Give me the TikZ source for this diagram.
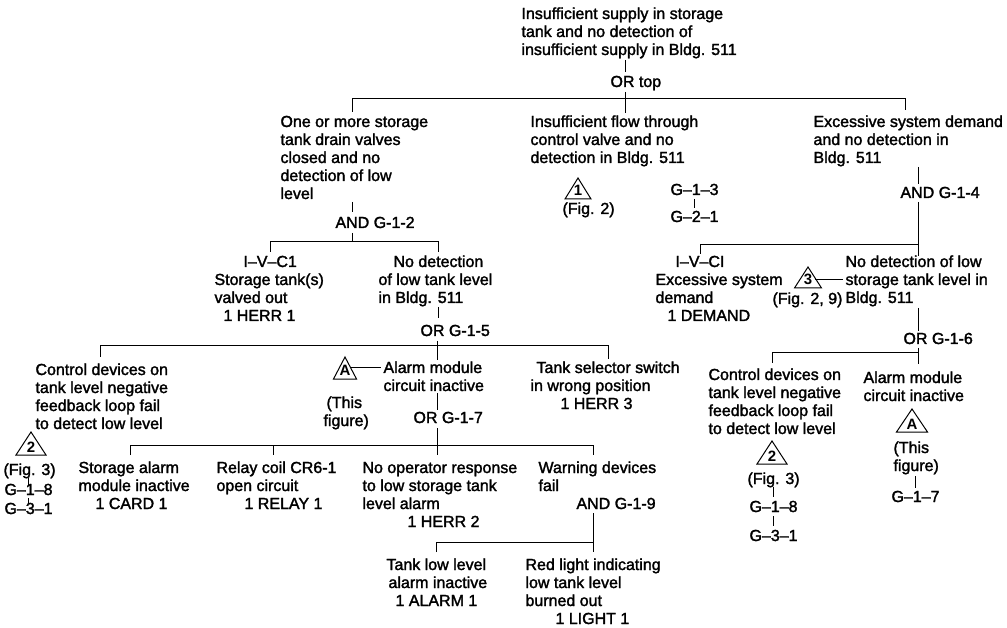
\documentclass[tikz,border=0pt]{standalone}
\usepackage{fontspec}
\setmainfont{Liberation Sans}[BoldFont={Liberation Sans},BoldFeatures={FakeBold=1.8}]
\newfontfamily\trifont{Liberation Sans}
\newcommand\fs{\fontsize{16}{18}\selectfont\bfseries}
\newcommand\tb[1]{\begin{tabular}[t]{@{}l@{}}#1\end{tabular}}
\newcommand\tri[6]{%
  \draw (#2-#4,#3+#5) -- (#2,#3) -- (#2+#4,#3+#5) -- cycle;
  \node[trilab] (#1) at (#2,#3+#5-3) {#6};}
\begin{document}
\begin{tikzpicture}[x=1pt,y=-1pt,line width=1pt,
  t/.style={inner sep=0pt,anchor=base west,font=\fs},
  g/.style={inner sep=0pt,anchor=base west,font=\fs},
  trilab/.style={inner sep=0pt,anchor=base,font=\trifont\fontsize{15}{15}\selectfont\bfseries}]
\fill[white] (0,0) rectangle (1007,628);
\useasboundingbox (0,0) rectangle (1007,628);

% top event
\node[t] (top) at (521,19) {\tb{Insufficient supply in storage\\tank and no detection of\\insufficient supply in Bldg. 511}};
\draw (625,60) -- (625,72);
\node[g] (gtop) at (610,87) {OR top};
\draw (625,92) -- (625,113);
\draw (352,112) -- (352,99) -- (905,99) -- (905,110);

% left branch
\node[t] (l1) at (280,127) {\tb{One or more storage\\tank drain valves\\closed and no\\detection of low\\level}};
\draw (352,202) -- (352,212);
\node[g] (g12) at (335,228) {AND G-1-2};
\draw (352,233) -- (352,242);
\draw (270,252) -- (270,242) -- (438,242) -- (438,252);
\node[t] (ivc1) at (214,267) {\tb{\hspace*{29pt}I–V–C1\\Storage tank(s)\\valved out\\\hspace*{9pt}1 HERR 1}};
\node[t] (nd1) at (378,267) {\tb{\hspace*{15pt}No detection\\of low tank level\\in Bldg. 511}};
\draw (438,307) -- (438,318);
\node[g] (g15) at (420,336) {OR G-1-5};
\draw (437,341) -- (437,360);
\draw (100,357) -- (100,346) -- (608,346) -- (608,359);

% middle branch
\node[t] (m1) at (530,127) {\tb{Insufficient flow through\\control valve and no\\detection in Bldg. 511}};
\tri{t1}{578}{178}{13}{21}{1}
\node[t] (f2) at (562,214) {(Fig. 2)};
\node[t] (g13) at (670,195) {G–1–3};
\draw (694,199) -- (694,208);
\node[t] (g21) at (670,222) {G–2–1};

% right branch
\node[t] (r1) at (813,127) {\tb{Excessive system demand\\and no detection in\\Bldg. 511}};
\draw (918,167) -- (918,184);
\node[g] (g14) at (900,198) {AND G-1-4};
\draw (918,202) -- (918,256);
\draw (700,254) -- (700,245) -- (918,245);
\node[t] (ivcl) at (655,267) {\tb{\hspace*{20pt}I–V–CI\\Excessive system\\demand\\\hspace*{12pt}1 DEMAND}};
\node[t] (nd2) at (845,267) {\tb{No detection of low\\storage tank level in\\Bldg. 511}};
\tri{t3}{808}{267}{13.5}{21}{3}
\draw (815,280) -- (843,280);
\node[t] (f29) at (772,304) {(Fig. 2, 9)};
\draw (918,308) -- (918,331);
\node[g] (g16) at (903,344) {OR G-1-6};
\draw (918,348) -- (918,364);
\draw (772,363) -- (772,353) -- (918,353);

% G-1-5 children
\node[t] (cd1) at (35,375) {\tb{Control devices on\\tank level negative\\feedback loop fail\\to detect low level}};
\tri{t2a}{31}{432}{15}{23}{2}
\node[t] (f3a) at (3,475) {(Fig. 3)};
\draw (28,478) -- (28,485);
\node[t] (g18a) at (4,495) {G–1–8};
\draw (28,498) -- (28,504);
\node[t] (g31a) at (4,514) {G–3–1};

\node[t] (am1) at (383,373) {\tb{Alarm module\\circuit inactive}};
\tri{tAa}{345}{357}{11.5}{22}{A}
\draw (351,368) -- (381,368);
\node[t] (tf1) at (323,408) {\tb{\hspace*{3pt}(This\\figure)}};
\draw (437,393) -- (437,410);
\node[g] (g17) at (413,423) {OR G-1-7};
\draw (437,428) -- (437,455);
\draw (130,455) -- (130,445) -- (593,445) -- (593,455);
\draw (273,445) -- (273,455);

\node[t] (ts) at (530,373) {\tb{\hspace*{6pt}Tank selector switch\\in wrong position\\\hspace*{30pt}1 HERR 3}};

% G-1-7 children
\node[t] (sa) at (78,473) {\tb{Storage alarm\\module inactive\\\hspace*{17pt}1 CARD 1}};
\node[t] (rc) at (216,473) {\tb{Relay coil CR6-1\\open circuit\\\hspace*{28pt}1 RELAY 1}};
\node[t] (no) at (362,473) {\tb{No operator response\\to low storage tank\\level alarm\\\hspace*{45pt}1 HERR 2}};
\node[t] (wd) at (538,473) {\tb{Warning devices\\fail}};
\node[g] (g19) at (576,509) {AND G-1-9};
\draw (593,513) -- (593,542);
\draw (436,552) -- (436,542) -- (593,542) -- (593,552);
\node[t] (tl) at (386,570) {\tb{Tank low level\\\hspace*{2pt}alarm inactive\\\hspace*{9pt}1 ALARM 1}};
\node[t] (rl) at (525,570) {\tb{Red light indicating\\low tank level\\burned out\\\hspace*{30pt}1 LIGHT 1}};

% G-1-6 children
\node[t] (cd2) at (708,380) {\tb{Control devices on\\tank level negative\\feedback loop fail\\to detect low level}};
\tri{t2b}{772}{441}{15}{23}{2}
\node[t] (f3b) at (747,484) {(Fig. 3)};
\draw (773,487) -- (773,497);
\node[t] (g18b) at (749,512) {G–1–8};
\draw (773,516) -- (773,526);
\node[t] (g31b) at (749,541) {G–3–1};

\node[t] (am2) at (863,383) {\tb{Alarm module\\circuit inactive}};
\tri{tAb}{912}{409}{15.5}{23}{A}
\node[t] (tf2) at (893,453) {\tb{(This\\figure)}};
\draw (915,476) -- (915,488);
\node[g] (g17b) at (891,502) {G–1–7};
\end{tikzpicture}
\end{document}
